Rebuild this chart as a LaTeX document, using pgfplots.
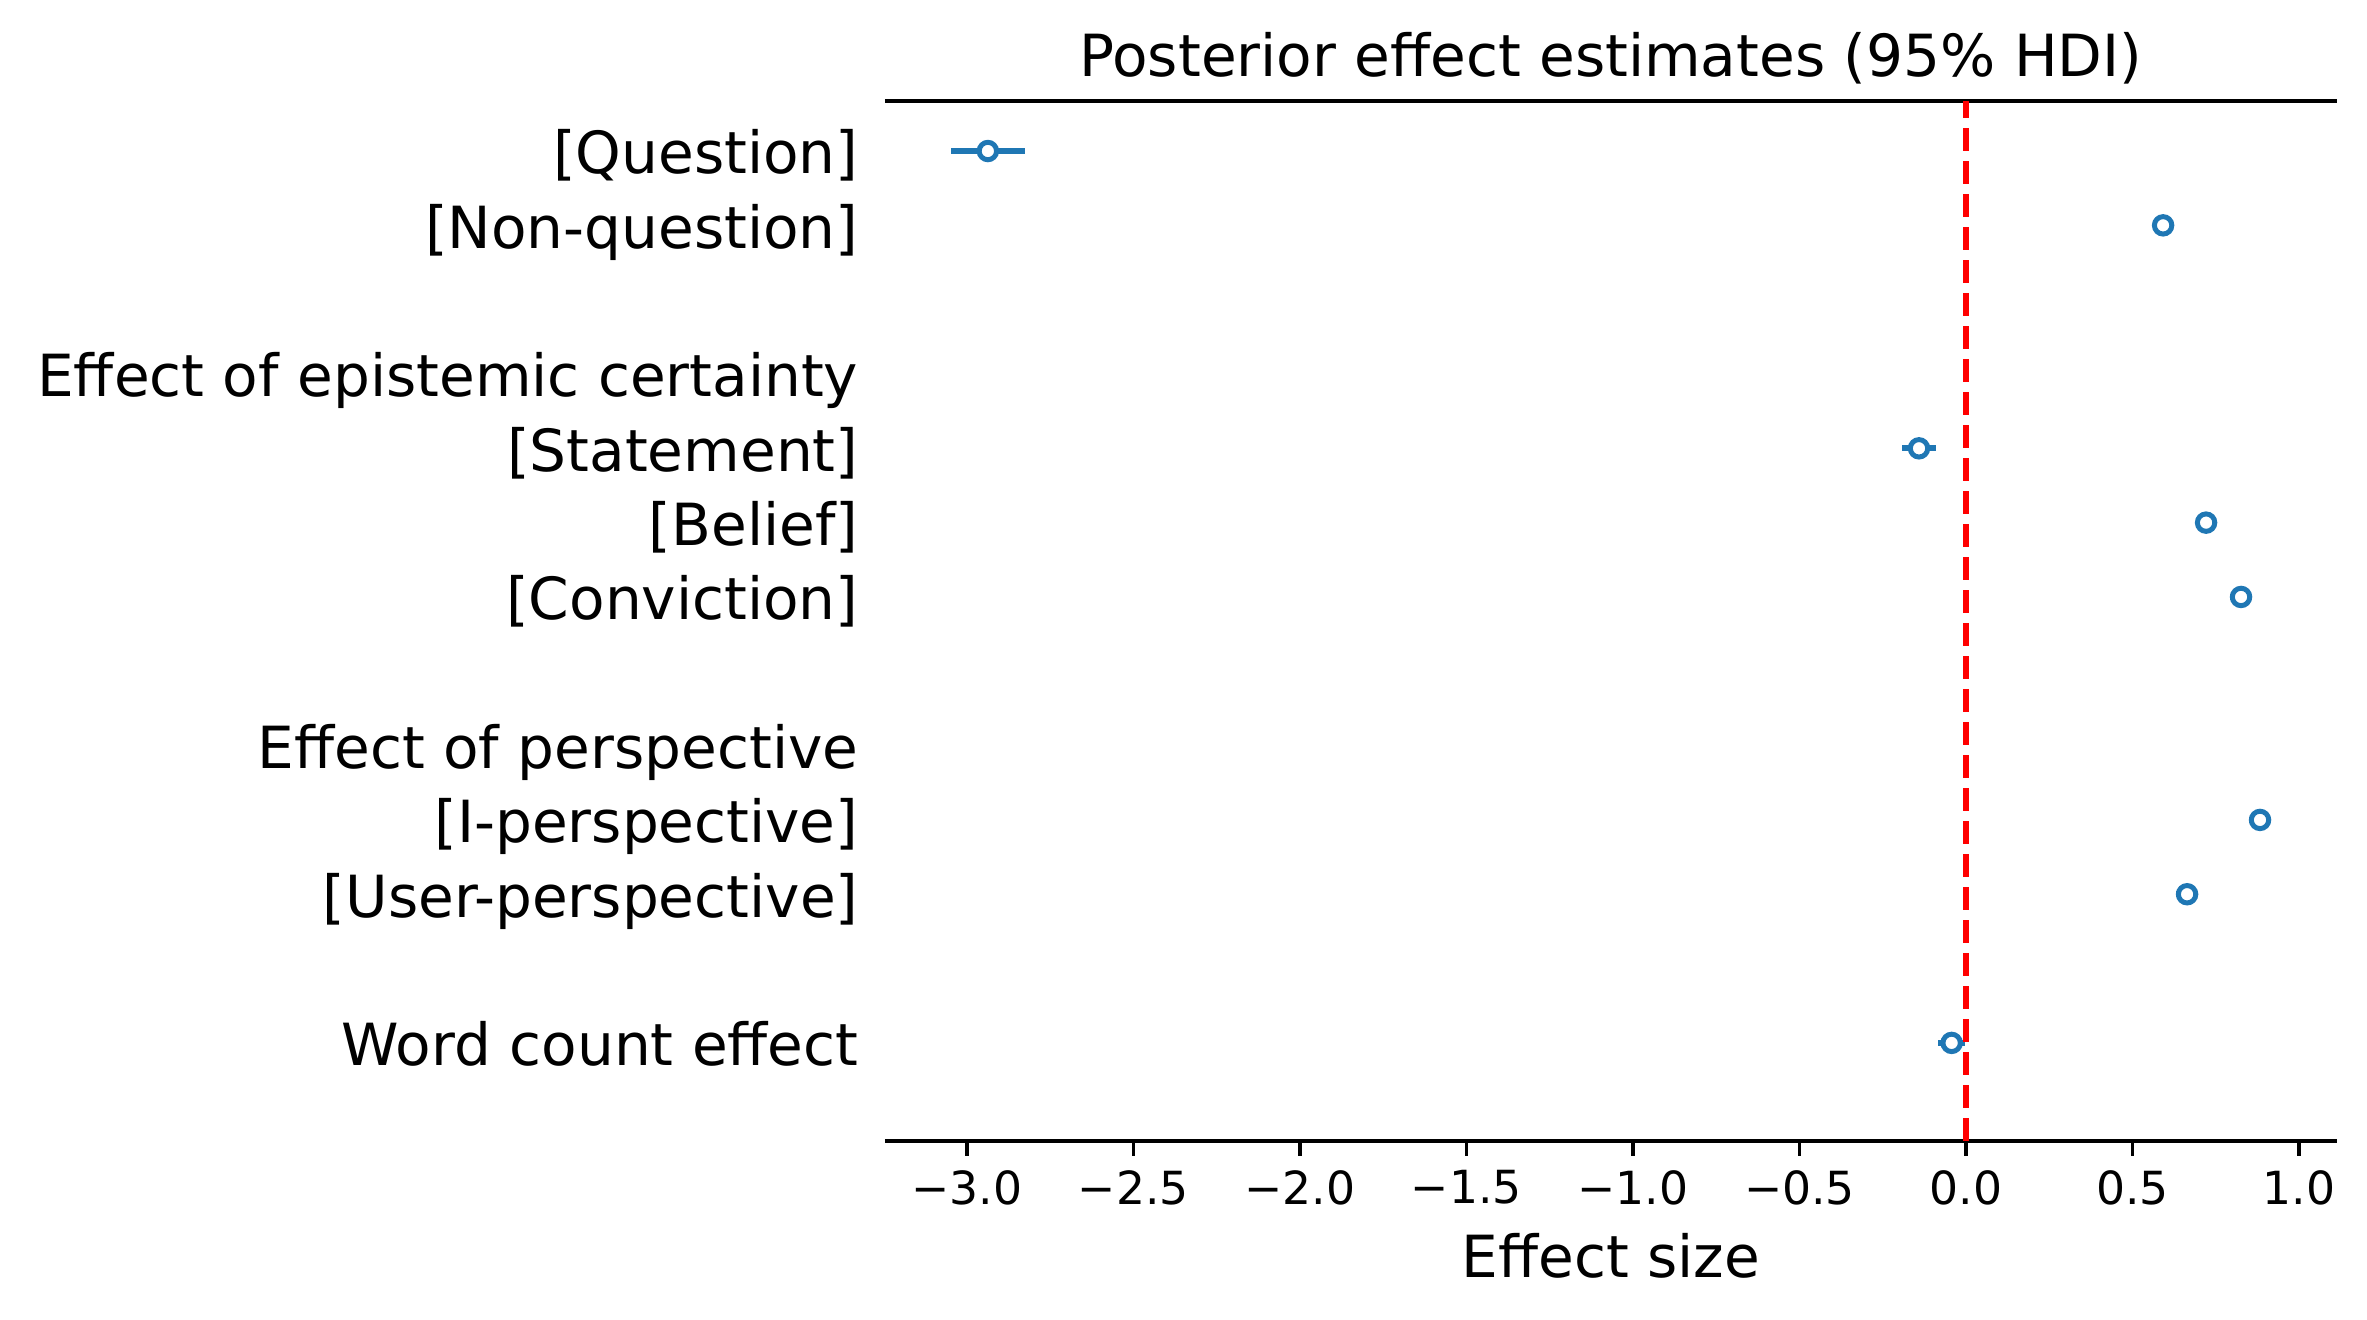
\documentclass[border=0pt]{standalone}
\usepackage{fontspec}
\setmainfont{DejaVu Sans}
\usepackage{pgfplots}
\pgfplotsset{compat=1.18}
\definecolor{mplblue}{HTML}{1F77B4}
\begin{document}
\begin{tikzpicture}
\useasboundingbox (-7.4930,-1.5155) rectangle (12.5478,9.6605);
\begin{axis}[
  at={(0,0)}, anchor=south west,
  scale only axis, width=12.2936cm, height=8.8053cm,
  xmin=-3.246, xmax=1.114,
  ymin=-0.673, ymax=13.32, y dir=reverse,
  separate axis lines,
  x axis line style={black, line width=0.8pt},
  y axis line style={draw=none},
  xtick={-3,-2.5,-2,-1.5,-1,-0.5,0,0.5,1},
  xticklabels={−3.0,−2.5,−2.0,−1.5,−1.0,−0.5,0.0,0.5,1.0},
  xtick pos=left,
  tick align=outside,
  major tick length=3.5pt,
  xtick style={black, line width=0.8pt},
  ytick style={draw=none},
  ytick={0,1,3,4,5,6,8,9,10,12},
  yticklabels={{[Question]},{[Non-question]},{Effect of epistemic certainty},{[Statement]},{[Belief]},{[Conviction]},{Effect of perspective},{[I-perspective]},{[User-perspective]},{Word count effect}},
  yticklabel style={font=\fontsize{14}{16.8}\selectfont, anchor=base east, inner sep=0pt, xshift=-2.7pt, yshift=-5.5pt},
  xticklabel style={font=\fontsize{11}{13.2}\selectfont, anchor=north, inner sep=0pt, yshift=-3.4pt},
  title={Posterior effect estimates (95\% HDI)},
  title style={font=\fontsize{14}{16.8}\selectfont, at={(0.5,1)}, anchor=base, inner sep=0pt, yshift=-0.2pt},
  xlabel={Effect size},
  xlabel style={font=\fontsize{14}{16.8}\selectfont, at={(0.5,0)}, anchor=north, inner sep=0pt, yshift=-22pt},
]
\addplot[only marks, mark=*, mark size=2.1pt,
  mark options={draw=mplblue, fill=white, line width=1.2pt},
  error bars/.cd, x dir=both, x explicit, error mark=none,
  error bar style={mplblue, line width=1.5pt}]
coordinates {
  (-2.937,0) +- (0.111,0)
  (0.592,1) +- (0.018,0)
  (-0.141,4) +- (0.051,0)
  (0.721,5) +- (0.018,0)
  (0.826,6) +- (0.033,0)
  (0.883,9) +- (0.033,0)
  (0.664,10) +- (0.032,0)
  (-0.043,12) += (0.039,0) -= (0.042,0)
};
\addplot[red, line width=1.5pt, dash pattern=on 5.55pt off 2.4pt] coordinates {(0,13.32) (0,-0.673)};
\end{axis}
\end{tikzpicture}
\end{document}
